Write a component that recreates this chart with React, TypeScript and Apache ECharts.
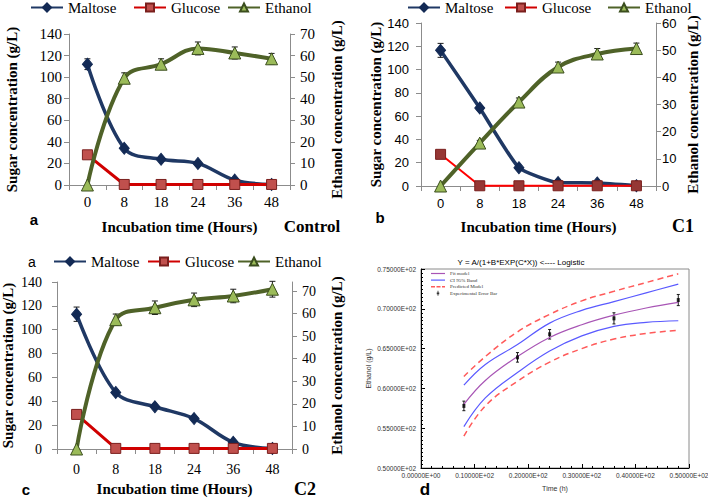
import React, { useEffect, useRef } from 'react';
import * as echarts from 'echarts';

// ---------- Data ----------
const hours = ['0', '8', '18', '24', '36', '48'];

// Panel a (Control)
const aMaltose = [112, 34, 23.8, 20, 4.5, 0.5];
const aGlucose = [28, 0.5, 0.5, 0.5, 0.5, 0.5];
const aEthanol = [0, 49.5, 56, 63.3, 61.2, 58.5];
const aMaltoseErr = [5, 1, 1, 1, 0, 0];
const aGlucoseErr = [3, 0, 0, 0, 0, 0];
const aEthanolErr = [0, 2.5, 2.5, 3, 2.8, 2.5];

// Panel b (C1)
const bMaltose = [116.5, 67, 15.7, 2.9, 2.6, 0.3];
const bGlucose = [27.2, 0.2, 0.2, 0.2, 0.2, 0.2];
const bEthanol = [0, 15.8, 30.9, 43.8, 48.6, 50.6];
const bMaltoseErr = [6, 2, 1, 1, 0, 0];
const bGlucoseErr = [2, 0, 0, 0, 0, 0];
const bEthanolErr = [0, 1, 1.5, 1.8, 2, 2];

// Panel c (C2)
const cMaltose = [113, 47.4, 35.4, 25.5, 5.6, 0.5];
const cGlucose = [29, 0.5, 0.5, 0.5, 0.5, 0.5];
const cEthanol = [0, 57.3, 62.6, 66.1, 67.8, 70.8];
const cMaltoseErr = [6, 2, 1.5, 1, 0, 0];
const cGlucoseErr = [3.5, 0, 0, 0, 0, 0];
const cEthanolErr = [0, 2.5, 3, 3, 3, 3.5];

// Panel d (logistic model)
const dTime = [8, 12, 18, 24, 30, 36, 42, 48];
const dFit = [58.0, 61.0, 64.0, 66.4, 68.0, 69.2, 70.1, 70.8];
const dCiUpper = [60.4, 63.0, 65.5, 68.2, 69.8, 70.9, 72.0, 73.1];
const dCiLower = [55.2, 58.8, 62.0, 64.7, 66.6, 67.8, 68.3, 68.5];
const dPredUpper = [61.5, 64.0, 67.1, 69.3, 71.0, 72.2, 73.3, 74.4];
const dPredLower = [54.0, 57.8, 60.9, 63.3, 65.0, 66.2, 66.9, 67.3];
const dExpTime = [8, 18, 24, 36, 48];
const dExp = [57.8, 63.9, 66.8, 68.8, 71.1];
const dExpErr = [0.6, 0.6, 0.6, 0.7, 0.7];

// ---------- Styles ----------
const SERIF = '"Liberation Serif", "Times New Roman", serif';
const SANS = '"Liberation Sans", Arial, sans-serif';
const NARROW = '"Liberation Sans Narrow", "Liberation Sans", Arial, sans-serif';
const AXIS_GRAY = '#8c8c8c';
const NAVY = '#1F3864';
const NAVY_MARK = '#132a55';
const RED = '#D00000';
const SQ_FILL = '#C0504D';
const SQ_BORDER = '#7A1F1D';
const OLIVE = '#4F6228';
const TRI_FILL = '#9BBB59';
const TRI_BORDER = '#3B4E1E';
const FIT_COLOR = '#a855b5';
const CI_COLOR = '#5a5aff';
const PRED_COLOR = '#ff5a5a';

function zip(xs: number[], ys: number[]) {
  return xs.map((x, i) => [x, ys[i]]);
}

function errSeries(xi: number, yi: number, values: number[], errs: number[], xs?: number[]) {
  return {
    type: 'custom',
    xAxisIndex: xi,
    yAxisIndex: yi,
    z: 1,
    silent: true,
    data: values.map((v, i) => [xs ? xs[i] : i, v, errs[i]]),
    encode: { x: 0, y: 1 },
    renderItem: (params: any, api: any) => {
      const x = api.value(0);
      const v = api.value(1);
      const e = api.value(2);
      if (!e) return { type: 'group', children: [] };
      const hi = api.coord([x, v + e]);
      const lo = api.coord([x, v - e]);
      const w = xs ? 1.5 : 3;
      const st = { stroke: '#1a1a1a', lineWidth: 1 };
      return {
        type: 'group',
        children: [
          { type: 'line', shape: { x1: hi[0], y1: hi[1], x2: lo[0], y2: lo[1] }, style: st },
          { type: 'line', shape: { x1: hi[0] - w, y1: hi[1], x2: hi[0] + w, y2: hi[1] }, style: st },
          { type: 'line', shape: { x1: lo[0] - w, y1: lo[1], x2: lo[0] + w, y2: lo[1] }, style: st },
        ],
      };
    },
  };
}

function panelSeries(
  xi: number, yl: number, yr: number,
  mal: number[], glu: number[], eth: number[],
  malE: number[], gluE: number[], ethE: number[],
  malSmooth: number, gluColor: string, sqFill: string, gluWidth: number
) {
  return [
    errSeries(xi, yl, mal, malE),
    errSeries(xi, yl, glu, gluE),
    errSeries(xi, yr, eth, ethE),
    {
      name: 'Maltose', type: 'line', xAxisIndex: xi, yAxisIndex: yl, data: mal, z: 3,
      smooth: malSmooth, symbol: 'diamond', symbolSize: [10, 12],
      lineStyle: { color: NAVY, width: 3.5 },
      itemStyle: { color: NAVY_MARK, borderColor: NAVY_MARK, borderWidth: 1 },
    },
    {
      name: 'Glucose', type: 'line', xAxisIndex: xi, yAxisIndex: yl, data: glu, z: 4,
      smooth: false, symbol: 'rect', symbolSize: 10,
      lineStyle: { color: gluColor, width: gluWidth },
      itemStyle: { color: sqFill, borderColor: SQ_BORDER, borderWidth: 1 },
    },
    {
      name: 'Ethanol', type: 'line', xAxisIndex: xi, yAxisIndex: yr, data: eth, z: 5,
      smooth: 0.4, symbol: 'triangle', symbolSize: 12,
      lineStyle: { color: OLIVE, width: 4 },
      itemStyle: { color: TRI_FILL, borderColor: TRI_BORDER, borderWidth: 1 },
    },
  ];
}

function catX(grid: number, font: string, size: number, margin: number, nameGap: number) {
  return {
    type: 'category', gridIndex: grid, data: hours, boundaryGap: true,
    axisLine: { show: true, lineStyle: { color: AXIS_GRAY, width: 1 } },
    axisTick: { show: true, inside: false, length: 5, lineStyle: { color: AXIS_GRAY } },
    axisLabel: { color: '#000', fontFamily: font, fontSize: size, margin },
    splitLine: { show: false },
    name: 'Incubation time (Hours)', nameLocation: 'middle', nameGap,
    nameTextStyle: { color: '#000', fontFamily: SERIF, fontWeight: 'bold', fontSize: 15 },
  };
}

function valY(grid: number, pos: string, max: number, interval: number, font: string, size: number,
  margin: number, name: string, nameGap: number) {
  return {
    type: 'value', gridIndex: grid, position: pos, min: 0, max, interval,
    axisLine: { show: true, lineStyle: { color: AXIS_GRAY, width: 1 } },
    axisTick: { show: true, inside: false, length: 5, lineStyle: { color: AXIS_GRAY } },
    axisLabel: { color: '#000', fontFamily: font, fontSize: size, margin, showMaxLabel: max % interval === 0 },
    splitLine: { show: false },
    name, nameLocation: 'middle', nameGap,
    nameTextStyle: { color: '#000', fontFamily: SERIF, fontWeight: 'bold', fontSize: 15 },
  };
}

function legendItem(name: string, left: number, cy: number) {
  return {
    data: [name], left, top: Math.max(0, cy - 8), padding: 0, orient: 'horizontal',
    itemWidth: 32, itemHeight: 10, selectedMode: false,
    textStyle: { fontFamily: SERIF, fontSize: 15, color: '#000' },
  };
}

const sciFmt = (v: number) => (v === 0 ? '0.00000E+00' : (v / 100).toFixed(5) + 'E+02');

function txt(text: string, x: number, y: number, font: string, rotation = 0) {
  return {
    type: 'text', x, y, rotation,
    style: { text, font, fill: '#000', textAlign: 'center', textVerticalAlign: 'middle' },
  };
}

export default function App() {
  const ref = useRef<HTMLDivElement>(null);
  useEffect(() => {
    if (!ref.current) return;
    const chart = echarts.init(ref.current, null, { renderer: 'svg' });
    const option: any = {
      animation: false,
      backgroundColor: '#fff',
      grid: [
        { left: 69, top: 34, width: 221, height: 151, outerBoundsMode: 'none', containLabel: false },
        { left: 421, top: 23, width: 235, height: 163, outerBoundsMode: 'none', containLabel: false },
        { left: 57, top: 282, width: 235, height: 167, outerBoundsMode: 'none', containLabel: false },
        {
          left: 421, top: 269, width: 268, height: 199, outerBoundsMode: 'none', containLabel: false,
          show: true, borderColor: '#8a8a8a', borderWidth: 1, backgroundColor: 'transparent',
        },
      ],
      xAxis: [
        catX(0, SERIF, 15, 9, 34),
        catX(1, SANS, 13, 11, 33),
        catX(2, SERIF, 14, 13, 32),
        {
          type: 'value', gridIndex: 3, min: 0, max: 50, interval: 10,
          axisLine: { show: true, lineStyle: { color: '#000', width: 1 } },
          axisTick: { show: true, inside: true, length: 4, lineStyle: { color: '#000' } },
          minorTick: { show: true, splitNumber: 5, length: 2, lineStyle: { color: '#000' } },
          splitLine: { show: false },
          axisLabel: { formatter: sciFmt, fontFamily: NARROW, fontSize: 6.5, color: '#333', margin: 4 },
          name: 'Time (h)', nameLocation: 'middle', nameGap: 17,
          nameTextStyle: { fontFamily: NARROW, fontSize: 7, color: '#333' },
        },
      ],
      yAxis: [
        valY(0, 'left', 140, 20, SERIF, 15, 7, 'Sugar concentration (g/L)', 50),
        valY(0, 'right', 70, 10, SERIF, 15, 10, 'Ethanol concentration (g/L)', 39),
        valY(1, 'left', 140, 20, SANS, 13, 12, 'Sugar concentration (g/L)', 34),
        valY(1, 'right', 60, 10, SANS, 13, 6, 'Ethanol concentration (g/L)', 29),
        valY(2, 'left', 140, 20, SERIF, 14, 15, 'Sugar concentration (g/L)', 42),
        valY(2, 'right', 74, 10, SERIF, 14, 10, 'Ethanol concentration (g/L)', 37),
        {
          type: 'value', gridIndex: 3, min: 50, max: 75, interval: 5,
          axisLine: { show: true, lineStyle: { color: '#000', width: 1 } },
          axisTick: { show: true, inside: true, length: 4, lineStyle: { color: '#000' } },
          minorTick: { show: true, splitNumber: 10, length: 2, lineStyle: { color: '#000' } },
          splitLine: { show: false },
          axisLabel: { formatter: sciFmt, fontFamily: NARROW, fontSize: 6.5, color: '#333', margin: 5 },
          name: 'Ethanol (g/L)', nameLocation: 'middle', nameGap: 49,
          nameTextStyle: { fontFamily: NARROW, fontSize: 7, color: '#333' },
        },
      ],
      legend: [
        legendItem('Maltose', 30, 8),
        legendItem('Glucose', 133, 8),
        legendItem('Ethanol', 227, 8),
        legendItem('Maltose', 407, 8),
        legendItem('Glucose', 504, 8),
        legendItem('Ethanol', 607, 8),
        legendItem('Maltose', 53, 262),
        legendItem('Glucose', 147, 262),
        legendItem('Ethanol', 237, 262),
        {
          data: [
            { name: 'Fit model', icon: 'path://M0,2H14V3.2H0Z', itemStyle: { color: FIT_COLOR } },
            { name: 'CI 95% Band', icon: 'path://M0,2H14V3.2H0Z', itemStyle: { color: CI_COLOR } },
            {
              name: 'Predicted Model',
              icon: 'path://M0,1.8H4V3.4H0Z M5.5,1.8H9.5V3.4H5.5Z M11,1.8H14V3.4H11Z',
              itemStyle: { color: PRED_COLOR },
            },
            { name: 'Experimental Error Bar', icon: 'path://M3,0H5V12H3Z M1,4H7V8H1Z', itemStyle: { color: '#000' } },
          ],
          orient: 'vertical', left: 431, top: 271, padding: 0,
          itemWidth: 14, itemHeight: 5, itemGap: 1.6, selectedMode: false,
          textStyle: { fontFamily: SERIF, fontSize: 5, color: '#333' },
        },
      ],
      graphic: [
        txt('a', 34, 219, `bold 15px ${SANS}`),
        txt('Control', 312, 226, `bold 17px ${SERIF}`),
        txt('b', 380, 217, `bold 15px ${SANS}`),
        txt('C1', 683, 226, `bold 18px ${SERIF}`),
        txt('a', 32, 262, `14px ${SANS}`),
        txt('c', 26, 489, `bold 15px ${SANS}`),
        txt('C2', 305, 489, `bold 18px ${SERIF}`),
        txt('d', 425, 489, `bold 17px ${SANS}`),
        txt('Y = A/(1+B*EXP(C*X)) <---- Logistic', 521, 262, `8px ${NARROW}`),
      ],
      series: [
        ...panelSeries(0, 0, 1, aMaltose, aGlucose, aEthanol, aMaltoseErr, aGlucoseErr, aEthanolErr, 0.35, RED, SQ_FILL, 3),
        ...panelSeries(1, 2, 3, bMaltose, bGlucose, bEthanol, bMaltoseErr, bGlucoseErr, bEthanolErr, 0.15, '#FF0000', '#953735', 2),
        ...panelSeries(2, 4, 5, cMaltose, cGlucose, cEthanol, cMaltoseErr, cGlucoseErr, cEthanolErr, 0.35, RED, SQ_FILL, 3),
        {
          name: 'Predicted Model', type: 'line', xAxisIndex: 3, yAxisIndex: 6, data: zip(dTime, dPredUpper),
          smooth: 0.4, symbol: 'none', lineStyle: { color: PRED_COLOR, width: 1.5, type: [6, 4] },
          itemStyle: { color: PRED_COLOR },
        },
        {
          name: 'Predicted Model', type: 'line', xAxisIndex: 3, yAxisIndex: 6, data: zip(dTime, dPredLower),
          smooth: 0.4, symbol: 'none', lineStyle: { color: PRED_COLOR, width: 1.5, type: [6, 4] },
          itemStyle: { color: PRED_COLOR },
        },
        {
          name: 'CI 95% Band', type: 'line', xAxisIndex: 3, yAxisIndex: 6, data: zip(dTime, dCiUpper),
          smooth: 0.4, symbol: 'none', lineStyle: { color: CI_COLOR, width: 1.2 },
          itemStyle: { color: CI_COLOR },
        },
        {
          name: 'CI 95% Band', type: 'line', xAxisIndex: 3, yAxisIndex: 6, data: zip(dTime, dCiLower),
          smooth: 0.4, symbol: 'none', lineStyle: { color: CI_COLOR, width: 1.2 },
          itemStyle: { color: CI_COLOR },
        },
        {
          name: 'Fit model', type: 'line', xAxisIndex: 3, yAxisIndex: 6, data: zip(dTime, dFit),
          smooth: 0.4, symbol: 'none', lineStyle: { color: FIT_COLOR, width: 1.2 },
          itemStyle: { color: FIT_COLOR },
        },
        errSeries(3, 6, dExp, dExpErr, dExpTime),
        {
          name: 'Experimental Error Bar', type: 'scatter', xAxisIndex: 3, yAxisIndex: 6,
          data: zip(dExpTime, dExp), symbol: 'rect', symbolSize: [3, 4], z: 3,
          itemStyle: { color: '#000' },
        },
      ],
    };
    chart.setOption(option);
    return () => chart.dispose();
  }, []);
  return (
    <div
      ref={ref}
      style={{ position: 'fixed', left: 0, top: 0, width: 708, height: 498, background: '#fff' }}
    />
  );
}
